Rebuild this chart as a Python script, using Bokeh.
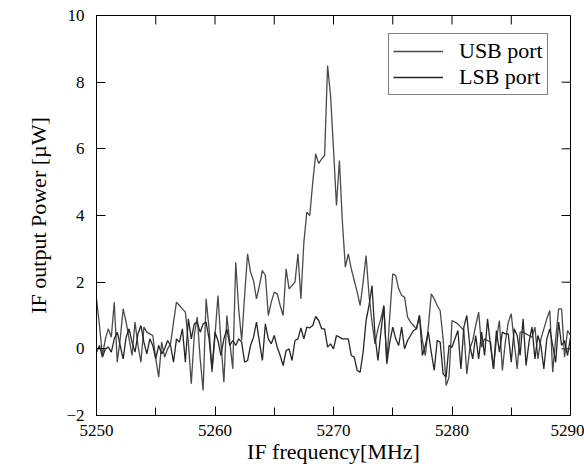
import numpy as np
from bokeh.plotting import figure
from bokeh.models import Legend, LegendItem, FixedTicker, Range1d, ColumnDataSource
from bokeh.embed import file_html
from bokeh.resources import INLINE

# sample grid (MHz)
freq = np.arange(5250.0, 5290.0 + 1e-9, 0.25)

usb_port = [
    1.5, 0.7, -0.2, 0.3, 0.6, 0.35, 1.4, -0.4, 0.3, 1.2,
    0.8, 0.3, -0.2, 0.8, 0.1, -0.4, 0.65, 0.5, 0.45, 0.4,
    -0.3, -0.85, 0.2, -0.25, 0.0, 0.15, 0.8, 1.4, 1.3, 1.2,
    1.1, 0.2, -1.05, 0.4, 0.95, -0.3, -1.25, 1.5, 0.6, -0.7,
    0.4, 1.6, 0.2, -1.0, 1.0, 0.2, -0.6, 2.6, 1.2, 0.25,
    1.6, 2.85, 2.3, 2.05, 1.5, 1.9, 2.35, 2.2, 1.0, 1.4,
    1.7, 1.65, 1.3, 1.0, 2.4, 1.8, 1.9, 2.0, 2.85, 1.5,
    3.2, 4.1, 4.0, 5.0, 5.85, 5.56, 5.7, 5.8, 8.5, 7.6,
    6.0, 4.3, 5.65, 3.8, 2.45, 2.85, 2.4, 2.05, 1.7, 1.3,
    2.0, 2.8, 1.6, 0.8, 0.15, 0.6, 0.9, 1.3, -0.4, 1.0,
    2.25, 2.2, 1.8, 1.6, 1.55, 0.95, 0.8, 0.7, 0.6, 1.0,
    0.25, -0.2, 0.65, 1.65, 1.5, 1.3, 1.15, 0.3, -1.1, -0.85,
    0.85, 0.8, 0.75, 0.65, 0.55, -0.75, 0.0, 0.25, 0.7, 1.1,
    0.05, 0.3, 0.25, 0.2, -0.6, 0.3, 0.85, -0.65, 0.2, 0.8,
    1.05, 0.2, -0.6, 0.5, 0.5, 0.45, 0.4, 0.35, 0.65, -0.3,
    0.3, 0.6, 0.9, 1.15, -0.7, 0.3, 1.2, 1.2, -0.25, 0.55,
    0.4,
]

lsb_port = [
    -0.1, 0.1, -0.25, 0.0, 0.05, -0.1, 0.3, 0.5, 0.1, -0.3,
    0.35, 0.6, 0.2, -0.1, 0.45, 0.7, 0.2, -0.15, 0.3, 0.1,
    -0.3, 0.1, -0.15, 0.0, 0.25, 0.1, -0.4, 0.3, 0.2, 0.6,
    -0.4, 0.9, 0.3, 0.75, 0.8, 0.5, 0.75, 0.8, 0.3, -0.6,
    0.5, 0.25, -0.2, 0.3, 0.6, 0.1, 0.25, 0.1, 0.3, 0.2,
    -0.4, -0.35, 0.1, 0.35, 0.8, 0.2, -0.35, 0.75, 0.3, 0.15,
    0.4, 0.05, -0.2, -0.5, -0.05, 0.0, -0.35, 0.25, 0.3, 0.63,
    0.3, 0.65, 0.63, 0.7, 0.97, 0.85, 0.6, 0.6, 0.05, 0.15,
    0.0, 0.4, 0.35, 0.3, 0.3, 0.3, -0.2, -0.25, -0.65, -0.7,
    -0.1, 0.85, 1.3, 1.9, 0.4, -0.35, 0.5, 1.27, -0.45, 0.2,
    0.65, 0.3, 0.1, 0.65, 0.0, 0.25, 0.4, 0.55, 0.6, 1.0,
    -0.2, 0.1, 0.5, -0.1, -0.65, 0.25, 0.2, -0.75, -0.85, 0.1,
    0.05, 0.3, 0.55, -0.6, 0.65, 1.0, 0.1, -0.3, 0.4, -0.3,
    0.5, -0.2, 0.9, 0.1, -0.6, 0.55, -0.1, 0.5, 0.45, 0.45,
    -0.4, 0.6, 0.4, -0.2, 0.9, -0.5, 0.2, 0.65, -0.3, 0.4,
    0.1, -0.6, 0.3, 0.6, 0.1, -0.4, 0.8, 0.1, 0.25, -0.2,
    0.35,
]

x_ticks = [5250, 5260, 5270, 5280, 5290]
x_minor_ticks = [5255, 5265, 5275, 5285]
y_ticks = [-2, 0, 2, 4, 6, 8, 10]
series_labels = ["USB port", "LSB port"]

FONT = "Liberation Serif, Times New Roman, Times, Tinos, serif"

src = ColumnDataSource(dict(f=freq, usb=usb_port, lsb=lsb_port))

p = figure(width=584, height=467,
           x_range=Range1d(5250, 5290), y_range=Range1d(-2, 10),
           output_backend="svg", toolbar_location=None,
           min_border_left=96, min_border_right=14,
           min_border_top=15, min_border_bottom=52)
p.xgrid.visible = False
p.ygrid.visible = False
p.outline_line_color = "black"
p.outline_line_width = 1
p.background_fill_color = "white"
p.border_fill_color = "white"

for ax in (p.xaxis[0], p.yaxis[0]):
    ax.axis_line_color = "black"
    ax.axis_line_width = 1
    ax.major_tick_in = 9
    ax.major_tick_out = 0
    ax.minor_tick_in = 8
    ax.minor_tick_out = 0
    ax.major_tick_line_color = "black"
    ax.minor_tick_line_color = "black"
    ax.major_label_text_font = FONT
    ax.major_label_text_font_size = "17px"
    ax.major_label_text_color = "black"
    ax.axis_label_text_font = FONT
    ax.axis_label_text_font_size = "22px"
    ax.axis_label_text_font_style = "normal"
    ax.axis_label_text_color = "black"

p.xaxis.ticker = FixedTicker(ticks=x_ticks, minor_ticks=x_minor_ticks)
p.yaxis.ticker = FixedTicker(ticks=y_ticks, minor_ticks=[])
p.yaxis.minor_tick_line_color = None
p.xaxis.axis_label = "IF frequency[MHz]"
p.yaxis.axis_label = "IF output Power [\u00b5W]"
p.xaxis.major_label_standoff = 9
p.xaxis.axis_label_standoff = 0
p.yaxis.major_label_standoff = 12
p.yaxis.axis_label_standoff = 12

# mirrored inward ticks on the top and right frame edges (no labels)
p.ray(x=x_ticks + x_minor_ticks, y=10, length=9, length_units="screen",
      angle=-np.pi / 2, line_color="black", line_width=1)
p.ray(x=5290, y=y_ticks, length=9, length_units="screen",
      angle=np.pi, line_color="black", line_width=1)

r_usb = p.line("f", "usb", source=src, line_color="#4a4a4a", line_width=1.3)
r_lsb = p.line("f", "lsb", source=src, line_color="#262626", line_width=1.3)

legend = Legend(items=[LegendItem(label=series_labels[0], renderers=[r_usb]),
                       LegendItem(label=series_labels[1], renderers=[r_lsb])],
                location=(292, 320))
legend.label_text_font = FONT
legend.label_text_font_size = "22px"
legend.label_text_color = "black"
legend.border_line_color = "black"
legend.border_line_width = 1.2
legend.background_fill_color = "white"
legend.background_fill_alpha = 1
legend.glyph_width = 50
legend.glyph_height = 22
legend.label_height = 22
legend.label_standoff = 16
legend.padding = 4
legend.spacing = 0
legend.margin = 0
p.add_layout(legend, "center")

open("out.html", "w").write(file_html(p, INLINE))
